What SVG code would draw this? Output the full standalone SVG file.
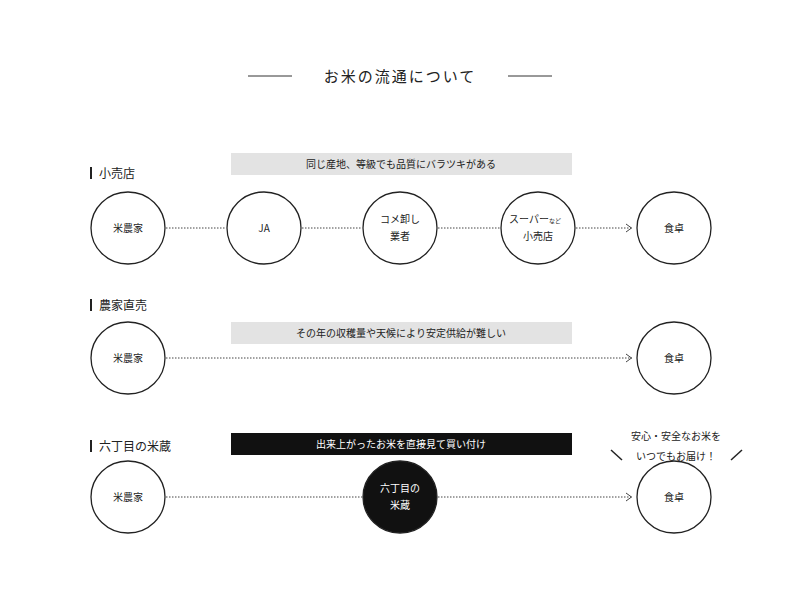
<svg xmlns="http://www.w3.org/2000/svg" width="800" height="595" viewBox="0 0 800 595">
<style>
text{font-family:"Noto Sans CJK JP","Noto Sans",sans-serif;fill:#222;}
.n ellipse{fill:#fff;stroke:#222;stroke-width:1.3}
.n text{font-size:10px;text-anchor:middle}
.lbl{font-size:12px}
.band{font-size:10px;text-anchor:middle}
.c line{stroke:#444;stroke-width:1;stroke-dasharray:1.5 1.5}
</style>
<defs><marker id="a" viewBox="0 0 6 10" refX="6" refY="5" markerWidth="6" markerHeight="10" orient="auto" markerUnits="userSpaceOnUse"><path d="M0,1 L5.5,5 L0,9" fill="none" stroke="#444" stroke-width="1"/></marker></defs>
<rect width="800" height="595" fill="#fff"/>
<line x1="248" y1="76" x2="292" y2="76" stroke="#333"/>
<line x1="508" y1="76" x2="552" y2="76" stroke="#333"/>
<text x="400" y="82" font-size="15" text-anchor="middle" letter-spacing="2">お米の流通について</text>

<rect x="90" y="167" width="2" height="12" fill="#222"/><text class="lbl" x="99" y="178">小売店</text>
<rect x="231" y="153" width="341" height="22" fill="#e3e3e3"/><text class="band" x="401" y="168">同じ産地、等級でも品質にバラツキがある</text>
<rect x="90" y="299" width="2" height="12" fill="#222"/><text class="lbl" x="99" y="310">農家直売</text>
<rect x="231" y="322" width="341" height="22" fill="#e3e3e3"/><text class="band" x="401" y="337">その年の収穫量や天候により安定供給が難しい</text>
<rect x="90" y="440" width="2" height="12" fill="#222"/><text class="lbl" x="99" y="451">六丁目の米蔵</text>
<rect x="231" y="433" width="341" height="22" fill="#111"/><text class="band" x="401" y="448" style="fill:#fff">出来上がったお米を直接見て買い付け</text>
<text x="676" y="440" font-size="10" text-anchor="middle">安心・安全なお米を</text>
<text x="676" y="460" font-size="10" text-anchor="middle">いつでもお届け！</text>
<line x1="611" y1="450" x2="622" y2="460" stroke="#222" stroke-width="1.5"/>
<line x1="742" y1="450" x2="731" y2="460" stroke="#222" stroke-width="1.5"/>

<g class="c">
<line x1="166" y1="228" x2="226" y2="228"/>
<line x1="302" y1="228" x2="362" y2="228"/>
<line x1="438" y1="228" x2="500" y2="228"/>
<line x1="576" y1="228" x2="632" y2="228" marker-end="url(#a)"/>
<line x1="166" y1="358" x2="632" y2="358" marker-end="url(#a)"/>
<line x1="166" y1="497" x2="362" y2="497"/>
<line x1="438" y1="497" x2="632" y2="497" marker-end="url(#a)"/>
</g>

<g id="r1-farmer" class="n"><ellipse cx="128" cy="228" rx="37" ry="36"/><text x="128" y="232">米農家</text></g>
<g id="r1-ja" class="n"><ellipse cx="264" cy="228" rx="37" ry="36"/><text x="264" y="232">JA</text></g>
<g id="r1-wholesale" class="n"><ellipse cx="400" cy="228" rx="37" ry="36"/><text x="400" y="223">コメ卸し</text><text x="400" y="240">業者</text></g>
<g id="r1-super" class="n"><ellipse cx="538" cy="228" rx="37" ry="36"/><text x="535" y="223">スーパー<tspan font-size="6">など</tspan></text><text x="538" y="240">小売店</text></g>
<g id="r1-table" class="n"><ellipse cx="674" cy="228" rx="37" ry="36"/><text x="674" y="232">食卓</text></g>
<g id="r2-farmer" class="n"><ellipse cx="128" cy="358" rx="37" ry="36"/><text x="128" y="362">米農家</text></g>
<g id="r2-table" class="n"><ellipse cx="674" cy="358" rx="37" ry="36"/><text x="674" y="362">食卓</text></g>
<g id="r3-farmer" class="n"><ellipse cx="128" cy="497" rx="37" ry="36"/><text x="128" y="501">米農家</text></g>
<g id="r3-kura" class="n"><ellipse cx="400" cy="497" rx="37" ry="36" style="fill:#111"/><text x="400" y="492" style="fill:#fff">六丁目の</text><text x="400" y="509" style="fill:#fff">米蔵</text></g>
<g id="r3-table" class="n"><ellipse cx="674" cy="497" rx="37" ry="36"/><text x="674" y="501">食卓</text></g>
</svg>
